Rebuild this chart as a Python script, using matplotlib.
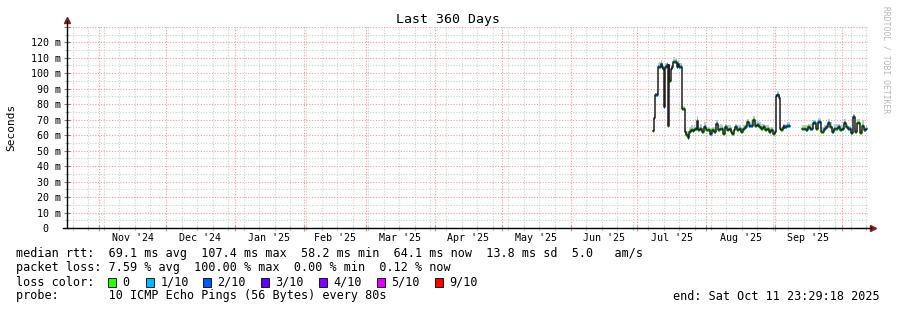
import matplotlib
matplotlib.use("Agg")
import matplotlib.pyplot as plt
import matplotlib.dates as mdates
from matplotlib.ticker import MultipleLocator, FuncFormatter, NullFormatter
import numpy as np
import pandas as pd

W, H = 897, 310
MONO = "DejaVu Sans Mono"

# median rtt samples: days after 2025-07-01, value in ms (nan = no data)
day = [7.2, 7.6, 8.0, 8.7,
       9.2, 9.8, 10.5, 11.2, 11.8, 12.2, 12.7, 13.4,
       13.7, 14.1, 14.5, 15.0, 15.7, 16.3, 17.0, 17.7, 18.4, 19.0, 19.7, 20.0, 20.6,
       21.3, 22.0, 22.9, 23.5, 24.2, 24.9, 25.6, 26.2, 26.7, 27.4, 28.3, 29.2, 30.1, 31.0, 31.9,
       32.8, 33.7, 34.6, 35.5, 36.4, 37.3, 38.2, 38.6, 39.5, 40.4, 41.3, 42.2, 42.7, 43.6, 44.0,
       44.9, 45.8, 46.7, 47.6, 48.5, 49.4, 50.3, 51.2, 52.1, 53.0, 53.9, 54.8, 55.7, 56.6, 57.5,
       58.4, 59.3, 60.2, 61.1, 62.0, 62.4, 63.1, 63.8, 64.2, 64.7, 65.6, 66.5, 67.4, 68.3, 68.8,
       74.1, 75.0, 75.9, 76.8, 77.7, 79.1, 80.4, 81.3, 82.7, 84.0, 84.9, 85.8, 86.7, 87.6, 88.5,
       89.4, 90.3, 91.2, 92.1, 93.0, 93.9, 94.8, 96.2, 97.1, 98.2, 99.1, 100.2, 101.1, 102.0, 102.9, 103.4]
rtt = [62.7, 71, 86, 86,
       104, 104, 106, 104, 103, 78, 104, 105,
       66, 105, 95, 103, 104, 107, 107.4, 104, 106, 104, 104, 77, 77,
       62, 60, 58.2, 62, 63, 62.5, 63, 64, 69, 63, 64, 62, 65, 63, 63,
       61, 63, 62, 67, 63, 64, 64, 61, 65, 63, 64, 62, 61, 63, 65,
       63, 64, 62, 64, 65, 68.7, 66, 66, 69.8, 66, 66.5, 65, 64, 65, 63,
       64, 62, 63, 61, 62, 85, 86, 84, 64, 63, 65, 65, 66, 66, np.nan,
       64, 64, 63, 65, 64, 68, 64, 68.7, 62, 64, 65, 67.6, 65, 62, 64,
       64, 65, 63, 64, 67.7, 65, 63.7, 61.2, 72, 62, 67.6, 61.2, 66, 63, 64, np.nan]
loss = [0, 0, 1, 1,
        1, 1, 0, 1, 1, 1, 1, 1,
        0, 1, 0, 1, 1, 0, 1, 1, 1, 1, 1, 0, 0,
        1, 0, 1, 0, 0, 1, 0, 1, 1, 0, 1, 0, 1, 0, 0,
        1, 0, 1, 1, 0, 0, 1, 0, 1, 0, 0, 1, 0, 0, 1,
        0, 1, 0, 0, 1, 0, 1, 1, 0, 0, 1, 0, 0, 1, 0,
        0, 1, 0, 0, 1, 1, 1, 1, 0, 0, 3, 1, 1, 1, 0,
        0, 0, 1, 0, 1, 1, 0, 1, 0, 1, 1, 1, 0, 1, 1,
        0, 1, 0, 1, 1, 0, 1, 1, 1, 0, 0, 0, 0, 1, 0, 0]
# height of the smoke above the median, ms
smoke = [1, 3, 2, 3,
         3, 4, 3, 3, 3, 2, 3, 3,
         2, 3, 3, 3, 3, 4, 2, 3, 3, 3, 3, 2, 2,
         3, 3, 3, 4, 4, 3, 4, 2, 4, 3, 4, 3, 4, 3, 3,
         4, 3, 4, 3, 4, 4, 3, 4, 3, 4, 3, 4, 3, 3, 3,
         4, 3, 4, 3, 3, 2, 3, 4, 3, 3, 3, 4, 4, 3, 4,
         3, 4, 3, 3, 2, 2, 3, 3, 4, 3, 3, 3, 3, 3, np.nan,
         3, 3, 4, 3, 4, 2, 4, 3, 4, 3, 3, 3, 4, 3, 4,
         4, 3, 4, 3, 3, 3, 3, 4, 2, 3, 3, 3, 4, 3, 3, np.nan]

loss_labels = ["0", "1/10", "2/10", "3/10", "4/10", "5/10", "9/10"]
loss_colors = ["#26ff00", "#00b8ff", "#0059ff", "#5e00ff", "#7e00ff", "#dd00ff", "#ff0000"]
month_labels = ["Nov '24", "Dec '24", "Jan '25", "Feb '25", "Mar '25", "Apr '25",
                "May '25", "Jun '25", "Jul '25", "Aug '25", "Sep '25"]
month_starts = pd.date_range("2024-11-01", "2025-10-01", freq="MS")

stats_lines = [
    "median rtt:  69.1 ms avg  107.4 ms max  58.2 ms min  64.1 ms now  13.8 ms sd  5.0   am/s",
    "packet loss: 7.59 % avg  100.00 % max  0.00 % min  0.12 % now",
]
probe_text = "probe:       10 ICMP Echo Pings (56 Bytes) every 80s"
end_text = "end: Sat Oct 11 23:29:18 2025"

t = pd.Timestamp("2025-07-01") + pd.to_timedelta(day, unit="D")
x = mdates.date2num(t.to_pydatetime())
rtt = np.array(rtt, dtype=float)
smoke = np.array(smoke, dtype=float)
width = np.append(np.diff(x), 0.5)

fig = plt.figure(figsize=(W / 100, H / 100), dpi=100)
ax = fig.add_axes([67 / W, (H - 228) / H, (868 - 67) / W, (228 - 26) / H])

ax.set_xlim(mdates.date2num(pd.Timestamp("2024-10-17 11:15")),
            mdates.date2num(pd.Timestamp("2025-10-12 19:50")))
ax.set_ylim(0, 130.5)


def ylab(v, p):
    if v == 0:
        return "0  "
    if v > 120:
        return ""
    return "%d m" % v


# grid
ax.xaxis.set_major_locator(mdates.MonthLocator())
ax.xaxis.set_minor_locator(mdates.WeekdayLocator(byweekday=mdates.SU))
ax.xaxis.set_major_formatter(NullFormatter())
ax.yaxis.set_major_locator(MultipleLocator(10))
ax.yaxis.set_minor_locator(MultipleLocator(5))
ax.yaxis.set_major_formatter(FuncFormatter(ylab))
ax.grid(which="minor", color="#cfcfcf", ls=(0, (1, 1.5)), lw=0.8)
ax.grid(which="major", color="#f29a9a", ls=(0, (1, 1.5)), lw=0.8)
ax.set_axisbelow(True)
ax.tick_params(axis="x", which="major", direction="inout", length=4, color="#f08080", width=0.8)
ax.tick_params(axis="x", which="minor", direction="inout", length=3, color="#b0b0b0", width=0.8)
ax.tick_params(axis="y", which="major", direction="inout", length=4, color="#808080", width=0.8,
               labelsize=7.2, pad=2)
ax.tick_params(axis="y", which="minor", direction="inout", length=3, color="#b0b0b0", width=0.8)
for lab in ax.get_yticklabels():
    lab.set_family(MONO)

for s in ax.spines.values():
    s.set_visible(False)

# smoke
ok = ~np.isnan(rtt)
ax.bar(x[ok], smoke[ok], bottom=rtt[ok] - 0.5, width=width[ok], align="edge",
       color="#c6c6c6", lw=0, zorder=2)
# loss coloured median blocks
ax.bar(x[ok], 2.6, bottom=rtt[ok] - 1.3, width=width[ok], align="edge",
       color=[loss_colors[l] for l in np.array(loss)[ok]], lw=0, zorder=3)
# median line
ax.step(x, rtt, where="post", color="#202020", lw=1.1, zorder=4)

# axes with arrows
arrow_c = "#8b1a1a"
ax.plot([0, 0], [0, 1 + 5 / 202], transform=ax.transAxes, color="black", lw=1, clip_on=False, zorder=5)
ax.plot([-4 / 801, 1 + 3 / 801], [0, 0], transform=ax.transAxes, color="black", lw=1, clip_on=False, zorder=5)
ax.plot([0], [1 + 6 / 202], marker="^", ms=4, color=arrow_c, transform=ax.transAxes, clip_on=False)
ax.plot([1 + 5 / 801], [0], marker=">", ms=4, color=arrow_c, transform=ax.transAxes, clip_on=False)

# month labels centred inside each month
for i, lab in enumerate(month_labels):
    mid = month_starts[i] + (month_starts[i + 1] - month_starts[i]) / 2
    ax.text(mdates.date2num(mid), -10 / 202, lab, transform=ax.get_xaxis_transform(),
            ha="center", va="center", fontsize=7.2, family=MONO)


def px(xp, yp):
    return xp / W, 1 - yp / H


fig.text(*px(448, 19), "Last 360 Days", ha="center", va="center", fontsize=9.5, family=MONO)
fig.text(*px(11, 127), "Seconds", ha="center", va="center", rotation=90, fontsize=8, family=MONO)
fig.text(*px(886, 60), "RRDTOOL / TOBI OETIKER", ha="center", va="center", rotation=270,
         fontsize=5.8, family=MONO, color="#b8b8b8")

for k, line in enumerate(stats_lines):
    fig.text(*px(16, 254 + 14 * k), line, ha="left", va="center", fontsize=8.5, family=MONO)
fig.text(*px(16, 282), "loss color:", ha="left", va="center", fontsize=8.5, family=MONO)
sq_x = [108, 146, 203, 261, 319, 377, 435]
for sx, lab, col in zip(sq_x, loss_labels, loss_colors):
    fig.patches.append(plt.Rectangle(px(sx, 286.5), 8 / W, 9 / H, transform=fig.transFigure,
                                     facecolor=col, edgecolor="black", lw=0.6))
    fig.text(*px(sx + 14.5, 282), lab, ha="left", va="center", fontsize=8.5, family=MONO)
fig.text(*px(16, 296), probe_text, ha="left", va="center", fontsize=8.5, family=MONO)
fig.text(*px(880, 296), end_text, ha="right", va="center", fontsize=8.5, family=MONO)

fig.savefig("out.png", dpi=100)
